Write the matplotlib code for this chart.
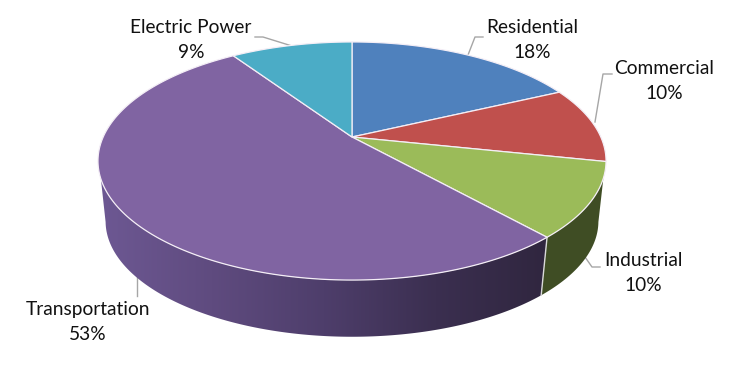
import numpy as np
import matplotlib
matplotlib.use("Agg")
import matplotlib.pyplot as plt
from matplotlib.colors import LinearSegmentedColormap
from matplotlib.patches import Polygon

# Data
categories = ["Residential", "Commercial", "Industrial", "Transportation", "Electric Power"]
shares = [18.0, 10.3, 10.1, 52.2, 9.4]      # slice sizes
share_labels = ["18%", "10%", "10%", "53%", "9%"]
colors = ["#4f81bd", "#c0504d", "#9bbb59", "#8064a2", "#4bacc6"]

# Projection of the tilted pie (pixel space of the reference)
APEX_X, APEX_Y = 352, 137
A, B, K = 248.8, 114.2, 0.2017
LOW_SCALE, LOW_DROP = 0.97, 61
# Silhouette angles of the side wall, degrees clockwise from 12 o'clock
SIDE_R_TOP, SIDE_R_LOW = 109.6, 102
SIDE_L_TOP, SIDE_L_LOW = 250, 258


def rim(deg, low=False):
    t = np.radians(np.atleast_1d(deg))
    X, Y = np.sin(t), np.cos(t)
    d = 1 + K * Y
    u, v = A * X / d, B * Y / d
    if low:
        u, v = u * LOW_SCALE, v * LOW_SCALE - LOW_DROP
    return np.column_stack([APEX_X + u, APEX_Y - v])


def arc(a, b, low=False):
    return rim(np.linspace(a, b, max(int(abs(b - a) * 2), 2)), low)


fig = plt.figure(figsize=(7.45, 3.72), dpi=100, facecolor="white")
ax = fig.add_axes([0, 0, 1, 1])
ax.set_xlim(0, 745)
ax.set_ylim(372, 0)
ax.axis("off")

cum = np.cumsum([0] + shares) / sum(shares) * 360
edges = dict(zip(categories, zip(cum[:-1], cum[1:])))

# Side wall
ind0, ind1 = edges["Industrial"]
tr0, tr1 = edges["Transportation"]
side_ind = np.vstack([arc(SIDE_R_TOP, ind1), arc(ind1, SIDE_R_LOW, True)])
ax.add_patch(Polygon(side_ind, closed=True, fc="#3f4d24", ec="none", zorder=2))

side_tr = np.vstack([arc(tr0, SIDE_L_TOP), arc(SIDE_L_LOW, tr0, True)])
patch = Polygon(side_tr, closed=True, fc="none", ec="none", zorder=2)
ax.add_patch(patch)
cmap = LinearSegmentedColormap.from_list(
    "side", ["#6d5893", "#5f4b7f", "#4e3e6b", "#3b2f50", "#30263f"])
img = ax.imshow(np.linspace(0, 1, 256)[None, :], cmap=cmap, aspect="auto",
                extent=(100, 548, 372, 0), zorder=2.1, interpolation="bilinear")
img.set_clip_path(patch)
ax.set_xlim(0, 745)
ax.set_ylim(372, 0)

# Seam between Transportation and Industrial on the wall
seam = np.vstack([rim(tr0), rim(tr0, True)])
ax.plot(seam[:, 0], seam[:, 1], color="#d9d9d9", lw=1.0, zorder=2.5)

# Top face
apex = np.array([[APEX_X, APEX_Y]])
for name, col in zip(categories, colors):
    a, b = edges[name]
    ax.add_patch(Polygon(np.vstack([apex, arc(a, b)]), closed=True, fc=col,
                         ec="#f4eef6", lw=0.9, joinstyle="round", zorder=3))

# Leader lines
leaders = [
    [(468, 55), (475, 37), (483, 37)],
    [(595, 122), (603, 74), (612, 74)],
    [(585, 257), (592, 267), (600, 267)],
    [(137, 275), (137, 296)],
    [(255, 37), (263, 37), (292, 46)],
]
for pts in leaders:
    xs, ys = zip(*pts)
    ax.plot(xs, ys, color="#a6a6a6", lw=1.0, zorder=1.5)

# Labels
label_pos = [(532, 40), (664, 81), (643, 273), (88, 322), (191, 40)]
for name, lab, (x, y) in zip(categories, share_labels, label_pos):
    ax.text(x, y, f"{name}\n{lab}", ha="center", va="center", family="Lato",
            fontsize=13.8, color="#111111", linespacing=1.55, zorder=5)

fig.savefig("out.png", dpi=100, facecolor="white")
